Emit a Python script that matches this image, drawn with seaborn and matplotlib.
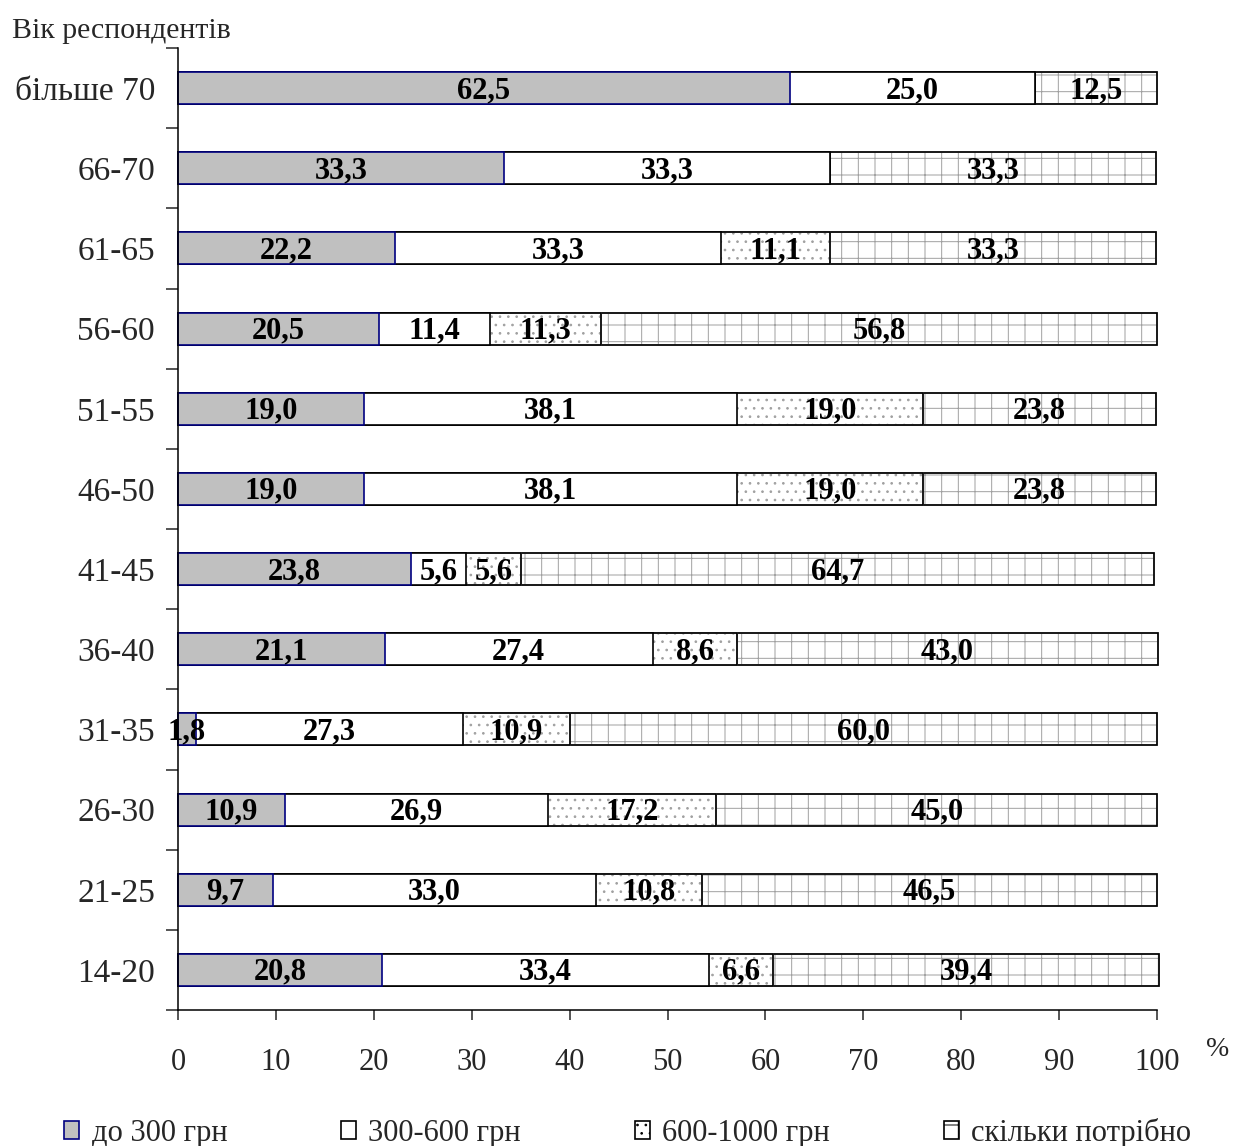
import numpy as np
import pandas as pd
import matplotlib
matplotlib.use('Agg')
import matplotlib.pyplot as plt
import seaborn as sns
from matplotlib.patches import Patch
from matplotlib.ticker import FixedLocator

# data, top row to bottom row
ages = ['більше 70', '66-70', '61-65', '56-60', '51-55', '46-50',
        '41-45', '36-40', '31-35', '26-30', '21-25', '14-20']
up_to_300 = [62.5, 33.3, 22.2, 20.5, 19.0, 19.0, 23.8, 21.1, 1.8, 10.9, 9.7, 20.8]
r300_600 = [25.0, 33.3, 33.3, 11.4, 38.1, 38.1, 5.6, 27.4, 27.3, 26.9, 33.0, 33.4]
r600_1000 = [0.0, 0.0, 11.1, 11.3, 19.0, 19.0, 5.6, 8.6, 10.9, 17.2, 10.8, 6.6]
as_needed = [12.5, 33.3, 33.3, 56.8, 23.8, 23.8, 64.7, 43.0, 60.0, 45.0, 46.5, 39.4]
series_names = ['до 300 грн', '300-600 грн', '600-1000 грн', 'скільки потрібно']
x_ticks = [0, 10, 20, 30, 40, 50, 60, 70, 80, 90, 100]

sns.set_theme(style='ticks')
plt.rcParams['font.family'] = ['Liberation Serif', 'DejaVu Serif']
plt.rcParams['hatch.linewidth'] = 0.7

df = pd.DataFrame({'age': ages, 's1': up_to_300, 's2': r300_600,
                   's3': r600_1000, 's4': as_needed})
df['c1'] = df['s1']
df['c2'] = df['c1'] + df['s2']
df['c3'] = df['c2'] + df['s3']
df['c4'] = df['c3'] + df['s4']

fig = plt.figure(figsize=(12.33, 11.46), dpi=100)
ax = fig.add_axes([178/1233, 1 - 1010/1146, (1157-178)/1233, (1010-48)/1146])

W = 0.4
LW = 1.2
hatch_col = '#a0a0a0'


def layer(col, face, edge, hatch=None, fill=True):
    n = len(ax.patches)
    sns.barplot(data=df, x=col, y='age', orient='h', width=W, color=face,
                fill=fill, ax=ax, errorbar=None, saturation=1, linewidth=LW)
    for p in ax.patches[n:]:
        if fill:
            p.set_facecolor(face)
        p.set_edgecolor(edge)
        p.set_linewidth(LW)
        p.set_clip_on(False)
        if hatch:
            p.set_hatch(hatch)


# cumulative layers, widest first, each one covers the left part of the previous
layer('c4', 'white', hatch_col, hatch='+')
layer('c4', 'white', 'black', fill=False)
layer('c3', 'white', hatch_col, hatch='..')
layer('c3', 'white', 'black', fill=False)
layer('c2', 'white', 'black')
layer('c1', '#c0c0c0', '#000080')

# value labels
for i, row in df.iterrows():
    left = 0
    for s in ['s1', 's2', 's3', 's4']:
        v = row[s]
        if v > 0:
            ax.text(left + v / 2, i + 0.03, f'{v:.1f}'.replace('.', ','), ha='center', va='center',
                    fontsize=22, fontweight='bold', color='black')
        left += v

ax.set_xlim(0, 100)
ax.set_ylim(len(ages) - 0.5, -0.5)
ax.set_xticks(x_ticks)
ax.set_xticklabels([str(t) for t in x_ticks])
ax.yaxis.set_minor_locator(FixedLocator(np.arange(-0.5, len(ages), 1.0)))
ax.tick_params(axis='y', which='major', length=0, pad=16.5, labelsize=24)
ax.tick_params(axis='y', which='minor', length=8.5, width=1.1, direction='out')
ax.tick_params(axis='x', length=7, width=1.1, direction='out', pad=20, labelsize=22)
ax.set_xlabel('')
ax.set_ylabel('')
sns.despine(ax=ax)
for sp in ['left', 'bottom']:
    ax.spines[sp].set_linewidth(1.1)
    ax.spines[sp].set_color('black')

fig.text(12/1233, 1 - 31/1146, 'Вік респондентів', ha='left', va='center', fontsize=21.5)
fig.text(1218/1233, 1 - 1050/1146, '%', ha='center', va='center', fontsize=20)

handles = [
    Patch(facecolor='#c0c0c0', edgecolor='#000080', linewidth=1.2),
    Patch(facecolor='white', edgecolor='black', linewidth=1.2),
    Patch(facecolor='white', edgecolor='black', hatch='..', linewidth=1.2),
    Patch(facecolor='white', edgecolor='black', hatch='+', linewidth=1.2),
]
fig.legend(handles, series_names, loc='center left', bbox_to_anchor=(64/1233, 1 - 1133/1146),
           ncol=4, frameon=False, fontsize=22, handlelength=0.5, handleheight=0.5,
           handletextpad=0.4, columnspacing=3.72, borderaxespad=0, borderpad=0)

fig.savefig('out.png', dpi=100)
